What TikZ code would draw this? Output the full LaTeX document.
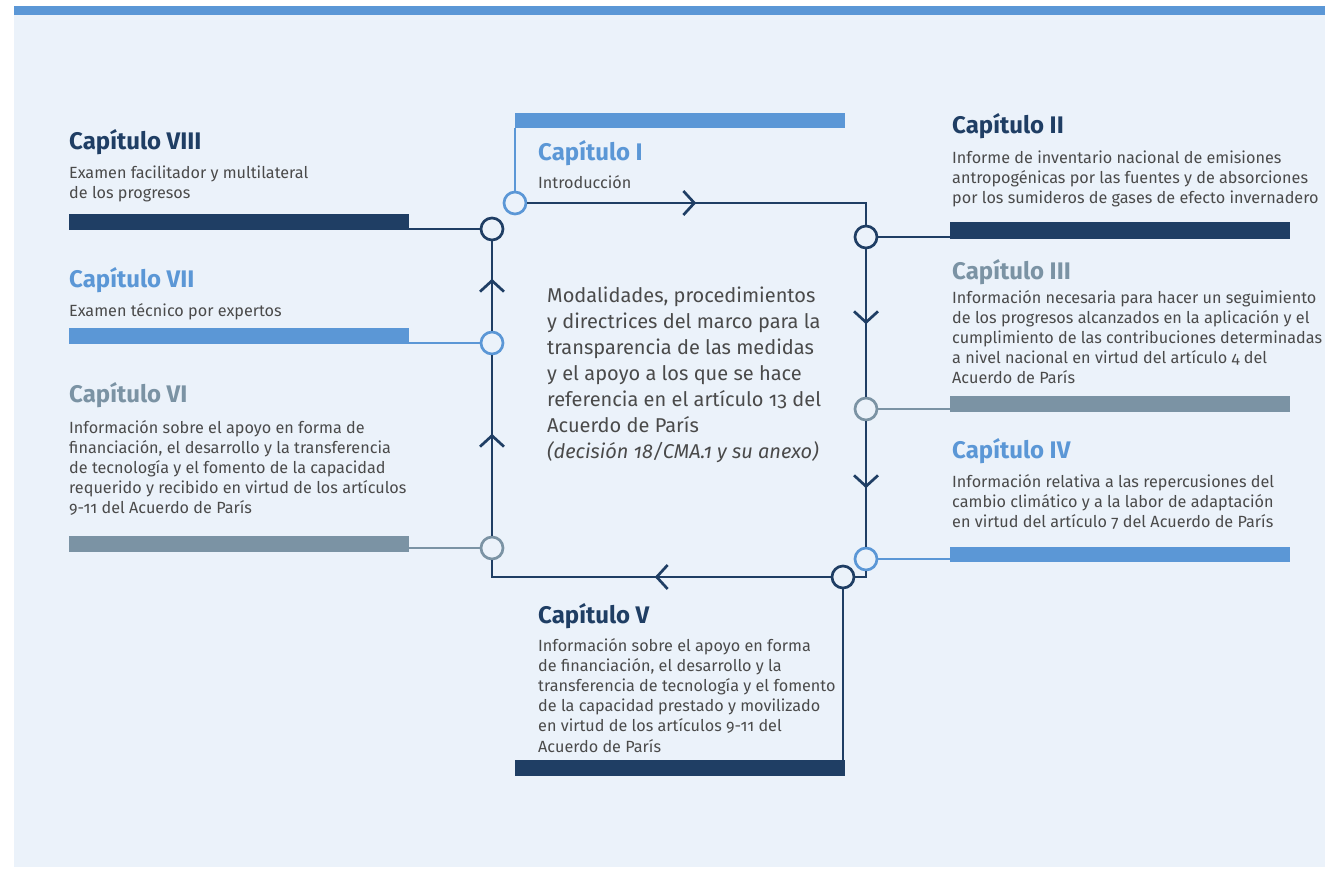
\documentclass[tikz,border=0pt]{standalone}
\usepackage{fontspec}
\setmainfont{Fira Sans}[Numbers=OldStyle]
\usetikzlibrary{decorations.markings}
\definecolor{bgblue}{HTML}{EBF2FA}
\definecolor{navy}{HTML}{1F3E64}
\definecolor{lblue}{HTML}{5B97D6}
\definecolor{greyb}{HTML}{7B93A4}
\definecolor{txt}{HTML}{4A4A4A}
\newcommand\mlines[1]{\begin{tabular}[t]{@{}l@{}}#1\end{tabular}}
\tikzset{
  title/.style={anchor=base west, inner sep=0pt, font=\fontsize{24}{28}\selectfont\bfseries},
  body/.style={anchor=base west, inner sep=0pt, text=txt, font=\fontsize{16.2}{20.2}\selectfont},
  center/.style={anchor=base west, inner sep=0pt, text=txt, font=\fontsize{20}{26}\selectfont},
  bar/.style={anchor=north west, inner sep=0pt, outer sep=0pt, draw=none, minimum height=16pt},
  dot/.style={circle, draw, line width=2.7pt, fill=bgblue, minimum size=22pt, inner sep=0pt},
  loopline/.style={draw=navy, line width=2.7pt},
  conn/.style={line width=2pt},
  chev/.style={postaction={decorate}, decoration={markings, mark=at position #1 with {\draw[navy, line width=2.7pt] (-11pt,12pt) -- (0pt,0pt) -- (-11pt,-12pt);}}}
}
\begin{document}
\begin{tikzpicture}[x=1pt,y=-1pt]
\useasboundingbox (0,0) rectangle (1325,870);
\fill[white] (0,0) rectangle (1325,870);
\fill[bgblue] (14,14) rectangle (1325,867);
\fill[lblue] (14,6) rectangle (1325,15);

% bars
\node[bar, fill=navy,  minimum width=340pt] (b8) at (69,214) {};
\node[bar, fill=lblue, minimum width=340pt] (b7) at (69,328) {};
\node[bar, fill=greyb, minimum width=340pt] (b6) at (69,536) {};
\node[bar, fill=lblue, minimum width=330pt, minimum height=15pt] (b1) at (515,113) {};
\node[bar, fill=navy,  minimum width=340pt, minimum height=17pt] (b2) at (950,222) {};
\node[bar, fill=greyb, minimum width=340pt] (b3) at (950,396) {};
\node[bar, fill=lblue, minimum width=340pt, minimum height=15pt] (b4) at (950,547) {};
\node[bar, fill=navy,  minimum width=330pt] (b5) at (515,760) {};

% circles
\node[dot, draw=lblue] (c1) at (515,203) {};
\node[dot, draw=navy]  (c8) at (492,229) {};
\node[dot, draw=lblue] (c7) at (492,343) {};
\node[dot, draw=greyb] (c6) at (492,548) {};
\node[dot, draw=navy]  (c2) at (866,237) {};
\node[dot, draw=greyb] (c3) at (866,409) {};
\node[dot, draw=lblue] (c4) at (866,559) {};
\node[dot, draw=navy]  (c5) at (843,577) {};
\coordinate (tr) at (866,203);
\coordinate (br) at (866,577);
\coordinate (bl) at (492,577);

% connectors to bars
\draw[conn, navy]  (c8.west) -- (c8.west -| b8.east);
\draw[conn, lblue] (c7.west) -- (c7.west -| b7.east);
\draw[conn, greyb] (c6.west) -- (c6.west -| b6.east);
\draw[conn, navy]  (c2.east) -- (c2.east -| b2.west);
\draw[conn, greyb] (c3.east) -- (c3.east -| b3.west);
\draw[conn, lblue] (c4.east) -- (c4.east -| b4.west);
\draw[conn, lblue] (c1.north) -- (c1.north |- b1.south);
\draw[loopline]    (c5.south) -- (c5.south |- b5.north);

% loop
\draw[loopline, chev=167pt] (c1.east) -- (tr) -- (c2.north);
\draw[loopline, chev=73pt]  (c2.south) -- (c3.north);
\draw[loopline, chev=65pt]  (c3.south) -- (c4.north);
\draw[loopline] (c4.south) -- (br) -- (c5.east);
\draw[loopline, chev=174pt] (c5.west) -- (bl) -- (c6.south);
\draw[loopline, chev=100pt] (c6.north) -- (c7.south);
\draw[loopline, chev=50pt]  (c7.north) -- (c8.south);

% texts
\node[title, text=navy] (t8) at (69,149) {Capítulo VIII};
\node[body] (d8) at (69,178) {\mlines{Examen facilitador y multilateral\\de los progresos}};
\node[title, text=lblue] (t7) at (69,287) {Capítulo VII};
\node[body] (d7) at (69,316) {\mlines{Examen técnico por expertos}};
\node[title, text=greyb] (t6) at (69,402) {Capítulo VI};
\node[body] (d6) at (69,433) {\mlines{Información sobre el apoyo en forma de\\financiación, el desarrollo y la transferencia\\de tecnología y el fomento de la capacidad\\requerido y recibido en virtud de los artículos\\9-11 del Acuerdo de París}};
\node[title, text=lblue] (t1) at (538,160) {Capítulo I};
\node[body] (d1) at (538,188) {\mlines{Introducción}};
\node[title, text=navy] (t2) at (952,133) {Capítulo II};
\node[body] (d2) at (952,163) {\mlines{Informe de inventario nacional de emisiones\\antropogénicas por las fuentes y de absorciones\\por los sumideros de gases de efecto invernadero}};
\node[title, text=greyb] (t3) at (952,279) {Capítulo III};
\node[body] (d3) at (952,303) {\mlines{Información necesaria para hacer un seguimiento\\de los progresos alcanzados en la aplicación y el\\cumplimiento de las contribuciones determinadas\\a nivel nacional en virtud del artículo 4 del\\Acuerdo de París}};
\node[title, text=lblue] (t4) at (952,458) {Capítulo IV};
\node[body] (d4) at (952,487) {\mlines{Información relativa a las repercusiones del\\cambio climático y a la labor de adaptación\\en virtud del artículo 7 del Acuerdo de París}};
\node[title, text=navy] (t5) at (538,623) {Capítulo V};
\node[body] (d5) at (538,651) {\mlines{Información sobre el apoyo en forma\\de financiación, el desarrollo y la\\transferencia de tecnología y el fomento\\de la capacidad prestado y movilizado\\en virtud de los artículos 9-11 del\\Acuerdo de París}};
\node[center] (mid) at (547,302) {\mlines{Modalidades, procedimientos\\y directrices del marco para la\\transparencia de las medidas\\y el apoyo a los que se hace\\referencia en el artículo 13 del\\Acuerdo de París\\\textit{(decisión 18/CMA.1 y su anexo)}}};
\end{tikzpicture}
\end{document}
